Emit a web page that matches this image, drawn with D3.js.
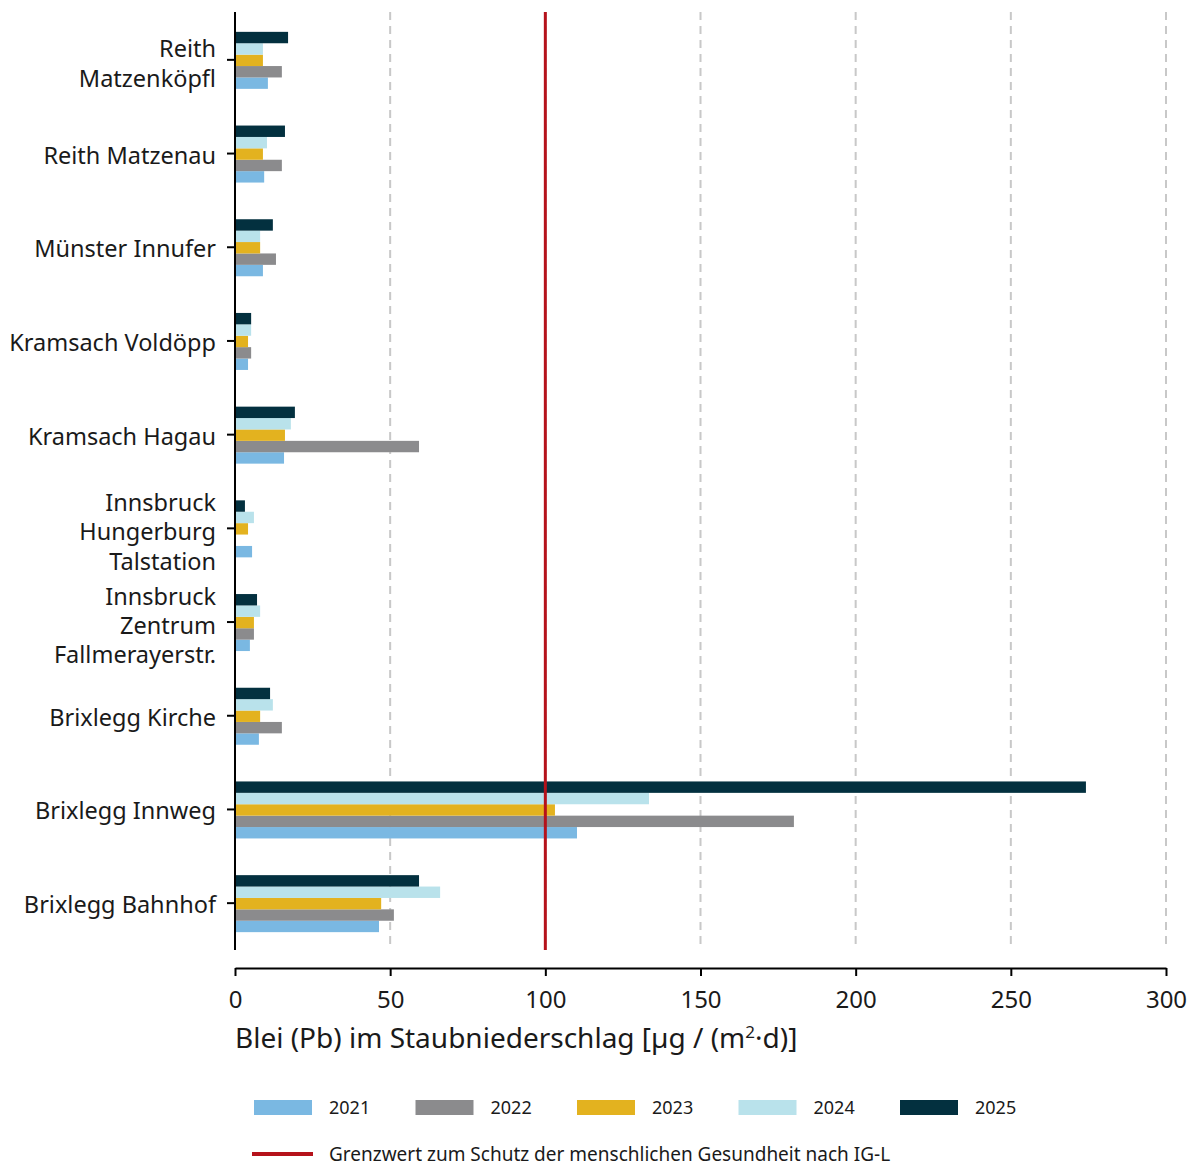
<!DOCTYPE html>
<html>
<head>
<meta charset="utf-8">
<script src="https://cdn.jsdelivr.net/npm/d3@7"></script>
<style>
  body { margin: 0; background: #fff; }
  text { font-family: "Noto Sans", "Open Sans", sans-serif; fill: #1a1a1a; }
</style>
</head>
<body>
<svg id="chart" width="1198" height="1167"></svg>
<script>
// Monitoring sites, top to bottom
const stations = [
  "Reith Matzenköpfl",
  "Reith Matzenau",
  "Münster Innufer",
  "Kramsach Voldöpp",
  "Kramsach Hagau",
  "Innsbruck Hungerburg Talstation",
  "Innsbruck Zentrum Fallmerayerstr.",
  "Brixlegg Kirche",
  "Brixlegg Innweg",
  "Brixlegg Bahnhof"
];
// Label line breaks per site
const stationLines = [
  ["Reith", "Matzenköpfl"],
  ["Reith Matzenau"],
  ["Münster Innufer"],
  ["Kramsach Voldöpp"],
  ["Kramsach Hagau"],
  ["Innsbruck", "Hungerburg", "Talstation"],
  ["Innsbruck", "Zentrum", "Fallmerayerstr."],
  ["Brixlegg Kirche"],
  ["Brixlegg Innweg"],
  ["Brixlegg Bahnhof"]
];

const years = ["2021", "2022", "2023", "2024", "2025"];
const yearColors = ["#7ab8e2", "#8b8b8d", "#e3b21f", "#b9e2eb", "#03303f"];

// Lead deposition, µg/(m²·d), per year in site order (null = no measurement)
const v2021 = [10.6, 9.4, 9.0, 4.2, 15.8, 5.5, 4.8, 7.7, 110.2, 46.4];
const v2022 = [15.1, 15.1, 13.2, 5.2, 59.3, null, 6.1, 15.1, 180.1, 51.2];
const v2023 = [9.0, 9.0, 8.1, 4.2, 16.1, 4.2, 6.1, 8.1, 103.1, 47.1];
const v2024 = [9.0, 10.3, 8.1, 5.2, 18.0, 6.1, 8.1, 12.2, 133.4, 66.1];
const v2025 = [17.1, 16.1, 12.2, 5.2, 19.3, 3.2, 7.1, 11.3, 274.2, 59.3];
const seriesValues = [v2021, v2022, v2023, v2024, v2025];

const limitValue = 100;
const limitLabel = "Grenzwert zum Schutz der menschlichen Gesundheit nach IG-L";
const xTicks = [0, 50, 100, 150, 200, 250, 300];

const svg = d3.select("#chart");
const plotLeft = 235, plotRight = 1166, plotTop = 13, plotBottom = 950, axisY = 968;

const x = d3.scaleLinear().domain([0, 300]).range([plotLeft, plotRight]);
const y = d3.scaleBand().domain(stations).range([plotTop, plotBottom]);
// Within a group the newest year sits on top
const ySub = d3.scaleBand().domain(years.slice().reverse())
  .range([y.bandwidth() / 2 - 28, y.bandwidth() / 2 + 29]);

// dashed vertical gridlines
svg.append("g").selectAll("line")
  .data(xTicks.filter(t => t > 0))
  .join("line")
  .attr("x1", d => x(d)).attr("x2", d => x(d))
  .attr("y1", 12).attr("y2", plotBottom)
  .attr("stroke", "#c8c8c8").attr("stroke-width", 2)
  .attr("stroke-dasharray", "8,6");

// bars
const rows = [];
stations.forEach((s, i) => {
  years.forEach((yr, j) => {
    const v = seriesValues[j][i];
    if (v != null) rows.push({ station: s, year: yr, value: v, color: yearColors[j] });
  });
});
svg.append("g").selectAll("rect")
  .data(rows)
  .join("rect")
  .attr("x", x(0) + 1)
  .attr("y", d => y(d.station) + ySub(d.year))
  .attr("width", d => x(d.value) - x(0) - 1)
  .attr("height", ySub.bandwidth())
  .attr("fill", d => d.color);

// limit value line
svg.append("line")
  .attr("x1", x(limitValue)).attr("x2", x(limitValue))
  .attr("y1", 12).attr("y2", plotBottom)
  .attr("stroke", "#b5121b").attr("stroke-width", 3);

// y axis
const yAxis = svg.append("g");
yAxis.append("line")
  .attr("x1", plotLeft).attr("x2", plotLeft).attr("y1", 12).attr("y2", plotBottom)
  .attr("stroke", "#000").attr("stroke-width", 2);
stations.forEach((s, i) => {
  const cy = y(s) + y.bandwidth() / 2;
  yAxis.append("line")
    .attr("x1", plotLeft - 8).attr("x2", plotLeft).attr("y1", cy).attr("y2", cy)
    .attr("stroke", "#000").attr("stroke-width", 2);
  const lines = stationLines[i];
  const lh = 29.3;
  const shift = lines.length > 1 ? 12 : 10;
  const t = yAxis.append("text")
    .attr("text-anchor", "end")
    .attr("font-size", 23.5);
  lines.forEach((ln, k) => {
    t.append("tspan")
      .attr("x", 216)
      .attr("y", cy + (k - (lines.length - 1) / 2) * lh + shift)
      .text(ln);
  });
});

// x axis
const xAxis = svg.append("g").attr("transform", `translate(0,${axisY})`)
  .call(d3.axisBottom(x).tickValues(xTicks).tickSize(8).tickSizeOuter(0).tickPadding(15));
xAxis.select(".domain").attr("stroke", "#000").attr("stroke-width", 2);
xAxis.selectAll(".tick line").attr("stroke", "#000").attr("stroke-width", 2);
xAxis.selectAll(".tick text")
  .attr("font-size", 24)
  .attr("font-family", "'Noto Sans', sans-serif")
  .attr("fill", "#1a1a1a");

// axis title
const title = svg.append("text")
  .attr("x", plotLeft).attr("y", 1048)
  .attr("font-size", 28);
title.append("tspan").text("Blei (Pb) im Staubniederschlag [µg / (m");
title.append("tspan").attr("dy", -10).attr("font-size", 17).text("2");
title.append("tspan").attr("dy", 10).text("·d)]");

// legend
const legend = svg.append("g");
years.forEach((yr, j) => {
  const lx = 254 + j * 161.5;
  legend.append("rect")
    .attr("x", lx).attr("y", 1100).attr("width", 58).attr("height", 15)
    .attr("fill", yearColors[j]);
  legend.append("text")
    .attr("x", lx + 75).attr("y", 1114)
    .attr("font-size", 18).text(yr);
});
legend.append("line")
  .attr("x1", 252).attr("x2", 313).attr("y1", 1154).attr("y2", 1154)
  .attr("stroke", "#b5121b").attr("stroke-width", 4);
legend.append("text")
  .attr("x", 329).attr("y", 1161)
  .attr("font-size", 19).text(limitLabel);
</script>
</body>
</html>
